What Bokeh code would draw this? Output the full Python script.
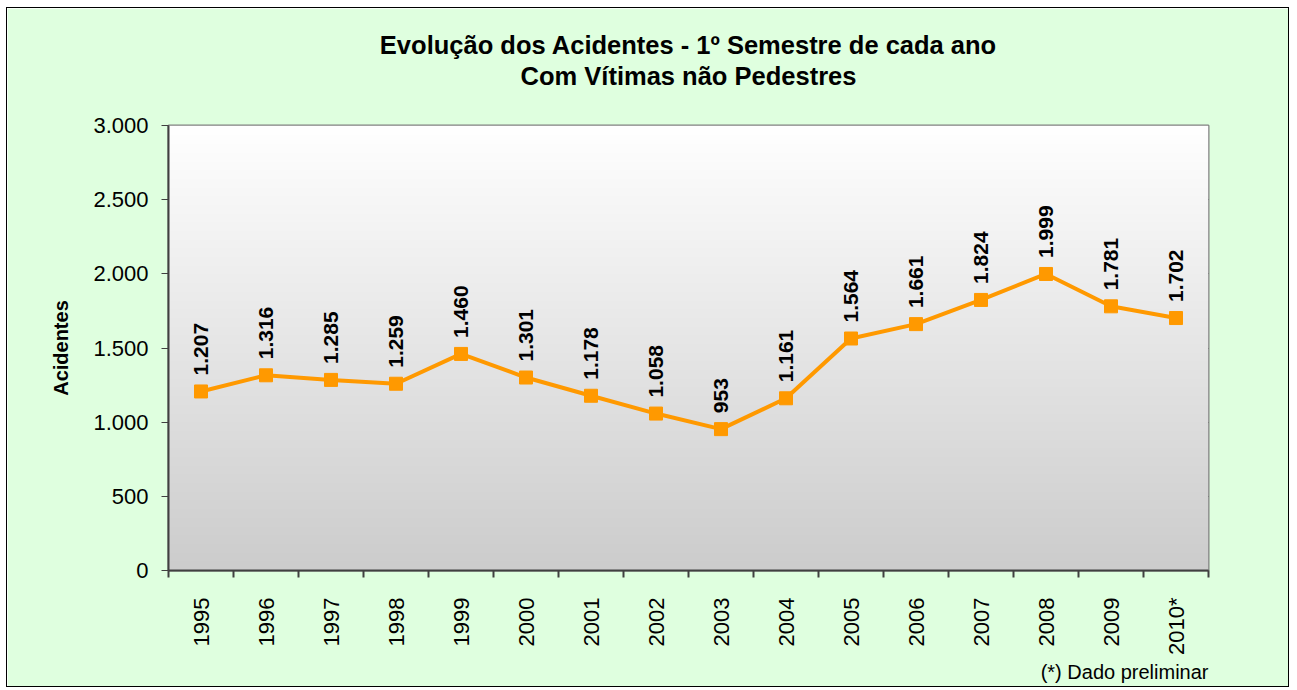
import numpy as np
from math import pi
from bokeh.plotting import figure
from bokeh.models import Range1d, FixedTicker, Title, ColumnDataSource
from bokeh.core.properties import value
from bokeh.embed import file_html
from bokeh.resources import INLINE

years = ["1995", "1996", "1997", "1998", "1999", "2000", "2001", "2002",
         "2003", "2004", "2005", "2006", "2007", "2008", "2009", "2010*"]
acidentes = [1207, 1316, 1285, 1259, 1460, 1301, 1178, 1058,
             953, 1161, 1564, 1661, 1824, 1999, 1781, 1702]
y_ticks = [0, 500, 1000, 1500, 2000, 2500, 3000]
title_lines = ["Evolução dos Acidentes - 1º Semestre de cada ano",
               "Com Vítimas não Pedestres"]
note_text = "(*) Dado preliminar"

FONT = "Liberation Sans"
ORANGE = "#FF9900"
BG = "#DFFFDF"


def fmt(v):
    return f"{v:,}".replace(",", ".")


n = len(years)
idx = list(range(n))
src = ColumnDataSource(dict(x=idx, y=acidentes, lbl=[fmt(v) for v in acidentes]))

x0, x1 = -0.5, n - 0.5
y0, y1 = y_ticks[0], y_ticks[-1]

p = figure(width=1283, height=680, output_backend="svg", toolbar_location=None,
           x_range=Range1d(x0, x1), y_range=Range1d(y0, y1),
           min_border_left=161, min_border_right=82, min_border_top=117,
           min_border_bottom=118, background_fill_color="white",
           border_fill_color=BG, outline_line_color="#808080", outline_line_width=2)
p.styles = {"border": "1px solid #000000", "margin": "7px 0 0 6px"}
p.title.visible = False

# title lines (first added sits closest to the frame)
t2 = Title(text=title_lines[1], align="center", text_font=FONT,
           text_font_size="25.5px", text_font_style="bold", text_color="black",
           standoff=72)
t1 = Title(text=title_lines[0], align="center", text_font=FONT,
           text_font_size="25.5px", text_font_style="bold", text_color="black",
           standoff=-70)
p.add_layout(t2, "above")
p.add_layout(t1, "above")

# gradient plot area
rows = 256
t = np.linspace(0, 1, rows)  # bottom -> top
g = (204 + (255 - 204) * t).astype(np.uint32)
img = np.zeros((rows, 2), dtype=np.uint32)
view = img.view(dtype=np.uint8).reshape((rows, 2, 4))
view[:, :, 0] = g[:, None]
view[:, :, 1] = g[:, None]
view[:, :, 2] = g[:, None]
view[:, :, 3] = 255
p.image_rgba(image=[img], x=x0, y=y0, dw=x1 - x0, dh=y1 - y0)

# grid
p.xgrid.grid_line_color = None
p.ygrid.grid_line_color = "#000000"
p.ygrid.grid_line_width = 1
p.ygrid.ticker = FixedTicker(ticks=y_ticks)

# y axis
p.yaxis.ticker = FixedTicker(ticks=y_ticks)
p.yaxis.major_label_overrides = {v: fmt(v) for v in y_ticks}
p.yaxis.axis_label = "Acidentes"
p.yaxis.axis_label_text_font = FONT
p.yaxis.axis_label_text_font_size = "20px"
p.yaxis.axis_label_text_font_style = "bold"
p.yaxis.axis_label_text_color = "black"
p.yaxis.axis_label_standoff = 18
p.yaxis.major_label_text_font = FONT
p.yaxis.major_label_text_font_size = "22px"
p.yaxis.major_label_text_color = "black"
p.yaxis.major_tick_out = 7
p.yaxis.major_tick_in = 0
p.yaxis.minor_tick_line_color = None
p.yaxis.major_label_standoff = 13
p.yaxis.axis_line_color = "#404040"
p.yaxis.axis_line_width = 2
p.yaxis.major_tick_line_color = "#404040"

# x axis: labels at centers, tick marks between categories
p.xaxis.ticker = FixedTicker(ticks=idx, minor_ticks=[i - 0.5 for i in range(n + 1)])
p.xaxis.major_label_overrides = {i: years[i] for i in idx}
p.xaxis.major_label_orientation = pi / 2
p.xaxis.major_label_text_font = FONT
p.xaxis.major_label_text_font_size = "22px"
p.xaxis.major_label_text_color = "black"
p.xaxis.major_tick_line_color = None
p.xaxis.major_tick_out = 0
p.xaxis.major_tick_in = 0
p.xaxis.major_label_standoff = 20
p.xaxis.minor_tick_line_color = "#404040"
p.xaxis.minor_tick_line_width = 2
p.xaxis.minor_tick_out = 7
p.xaxis.minor_tick_in = 0
p.xaxis.axis_line_color = "#404040"
p.xaxis.axis_line_width = 2

# note
note = Title(text=note_text, align="right", text_font=FONT,
             text_font_size="20px", text_font_style="normal", text_color="black",
             standoff=0)
p.add_layout(note, "below")

# series
p.line("x", "y", source=src, line_color=ORANGE, line_width=4)
p.scatter("x", "y", source=src, marker="square", size=13,
          fill_color=ORANGE, line_color=ORANGE)
p.text("x", "y", text="lbl", source=src, angle=pi / 2, text_align="left",
       text_baseline="middle", y_offset=-16, text_font=value(FONT),
       text_font_size="21px", text_font_style="bold", text_color="black")

open("out.html", "w").write(file_html(p, INLINE))
